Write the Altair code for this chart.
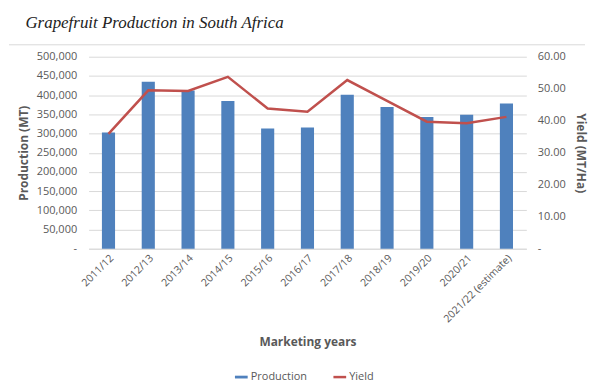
import altair as alt
import pandas as pd

years = ["2011/12", "2012/13", "2013/14", "2014/15", "2015/16", "2016/17",
         "2017/18", "2018/19", "2019/20", "2020/21", "2021/22 (estimate)"]
production = [303000, 435000, 412000, 385000, 313000, 316000,
              401000, 369000, 343000, 349000, 378000]
yield_vals = [35.9, 49.5, 49.3, 53.7, 43.8, 42.8, 52.7, 46.2, 39.7, 39.2, 41.2]

df = pd.DataFrame({"year": years, "production": production, "yield": yield_vals,
                   "s1": "Production", "s2": "Yield"})

GRAY = "#595959"
FONT = "Open Sans"

x = alt.X("year:N", sort=years, title="Marketing years",
          scale=alt.Scale(paddingInner=0.67, paddingOuter=0.335),
          axis=alt.Axis(labelAngle=-45, labelFontSize=10.5, labelColor=GRAY, labelFont=FONT,
                        ticks=False, domainColor="#D9D9D9", titleFont=FONT, titleFontSize=12,
                        titleColor=GRAY, titleFontWeight="bold", titlePadding=12.5, labelPadding=4))

bars = alt.Chart(df).mark_bar(color="#4F81BD").encode(
    x=x,
    y=alt.Y("production:Q", title="Production (MT)",
            scale=alt.Scale(domain=[0, 500000]),
            axis=alt.Axis(values=list(range(0, 500001, 50000)),
                          labelExpr="datum.value == 0 ? '-' : format(datum.value, ',')",
                          labelFont=FONT, labelFontSize=11, labelColor=GRAY, labelPadding=12,
                          ticks=False, domain=False, gridColor="#D9D9D9",
                          titleFont=FONT, titleFontSize=12, titleColor=GRAY,
                          titleFontWeight="bold", titlePadding=6)),
    fill=alt.Fill("s1:N", scale=alt.Scale(domain=["Production"], range=["#4F81BD"]),
                  legend=alt.Legend(title=None, orient="none", legendX=148, legendY=316.5,
                                    symbolType="M-1.6,-0.35H1.6V0.35H-1.6Z",
                                    symbolSize=64, labelFont=FONT, labelFontSize=11,
                                    labelColor=GRAY)),
)

line = alt.Chart(df).mark_line(color="#C0504D", strokeWidth=2.5).encode(
    x=x,
    y=alt.Y("yield:Q", title="Yield (MT/Ha)",
            scale=alt.Scale(domain=[0, 60]),
            axis=alt.Axis(orient="right", values=list(range(0, 61, 10)), grid=False,
                          labelExpr="datum.value == 0 ? '-' : format(datum.value, '.2f')",
                          labelFont=FONT, labelFontSize=11, labelColor=GRAY, labelPadding=11,
                          ticks=False, domain=False,
                          titleFont=FONT, titleFontSize=12, titleColor=GRAY,
                          titleFontWeight="bold", titlePadding=8)),
    stroke=alt.Stroke("s2:N", scale=alt.Scale(domain=["Yield"], range=["#C0504D"]),
                      legend=alt.Legend(title=None, orient="none", legendX=247, legendY=316.5,
                                        symbolType="M-1.6,0H1.6", symbolSize=64,
                                        symbolStrokeWidth=2.5, labelFont=FONT,
                                        labelFontSize=11, labelColor=GRAY)),
)

sep = alt.Chart(pd.DataFrame({"k": [0]})).mark_rule(color="#D9D9D9", strokeWidth=1).encode(
    x=alt.value(-80), x2=alt.value(499), y=alt.value(-12))

chart = alt.layer(sep, bars, line).resolve_scale(y="independent", fill="independent",
                                                 stroke="independent").properties(
    width=440, height=193,
    padding={"left": 0, "top": 5, "right": 5, "bottom": 5},
    title=alt.TitleParams("Grapefruit Production in South Africa", font="Liberation Serif",
                          fontStyle="italic", fontWeight="normal", fontSize=17, color="#222222",
                          anchor="start", frame="bounds", offset=12.5, dx=17),
).configure_view(stroke=None)

chart.save("out.html", embed_options={"renderer": "svg", "actions": False})
